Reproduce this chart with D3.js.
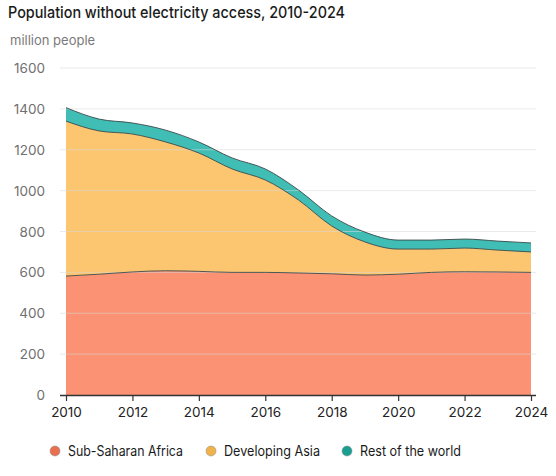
<!DOCTYPE html>
<html><head><meta charset="utf-8">
<script src="https://cdn.jsdelivr.net/npm/d3@7"></script>
<style>body{margin:0;background:#fff;} svg{display:block;}</style>
</head><body>
<svg id="c" width="556" height="476"></svg>
<script>
const years = [2010,2011,2012,2013,2014,2015,2016,2017,2018,2019,2020,2021,2022,2023,2024];
const subSaharanAfrica = [582,591,602,608,605,600,600,597,593,587,591,600,603,602,600];
const developingAsia   = [758,701,675,630,579,506,452,357,234,162,123,114,116,107,100];
const restOfWorld      = [66,58,54,58,54,54,54,49,49,48,44,44,44,44,44];
const seriesNames = ["Sub-Saharan Africa","Developing Asia","Rest of the world"];
const fills = ["#FA9273","#FCC56F","#40BDB4"];
const dots = ["#E8704F","#F0B24A","#1A9E90"];
const yTicks = [0,200,400,600,800,1000,1200,1400,1600];
const xTicks = [2010,2012,2014,2016,2018,2020,2022,2024];

const svg = d3.select("#c");
const font = "Inter, 'Noto Sans', sans-serif";
const x = d3.scaleLinear().domain([2010,2024]).range([66,531]);
const y = d3.scaleLinear().domain([0,1600]).range([395,68]);

const table = years.map((yr,i)=>({year:yr, a:subSaharanAfrica[i], b:developingAsia[i], c:restOfWorld[i]}));
const stack = d3.stack().keys(["a","b","c"])(table);

svg.append("text").attr("x",8).attr("y",18).attr("font-family",font).attr("font-size",16)
  .attr("font-weight",500).attr("fill","#1a1a1a").attr("textLength",337).attr("lengthAdjust","spacingAndGlyphs")
  .text("Population without electricity access, 2010-2024");
svg.append("text").attr("x",10).attr("y",45).attr("font-family",font).attr("font-size",13)
  .attr("fill","#7a7a7a").text("million people");

const area = d3.area().x(d=>x(d.data.year)).y0(d=>y(d[0])).y1(d=>y(d[1])).curve(d3.curveMonotoneX);
const line = d3.line().x(d=>x(d.data.year)).y(d=>y(d[1])).curve(d3.curveMonotoneX);

svg.append("g").selectAll("path").data(stack).join("path")
  .attr("d",area).attr("fill",(d,i)=>fills[i]);

// gridlines
svg.append("g").selectAll("line").data(yTicks.filter(t=>t>0)).join("line")
  .attr("x1",60).attr("x2",536).attr("y1",d=>y(d)).attr("y2",d=>y(d))
  .attr("stroke","#d8d8d8").attr("stroke-opacity",0.55).attr("stroke-width",1);

svg.append("g").selectAll("path").data(stack).join("path")
  .attr("d",line).attr("fill","none").attr("stroke","#3a4a48").attr("stroke-width",0.9);

// y labels
svg.append("g").selectAll("text").data(yTicks).join("text")
  .attr("x",45).attr("y",d=>y(d)+5).attr("text-anchor","end")
  .attr("font-family",font).attr("font-size",13.5).attr("fill","#707070").text(d=>d);

// x axis
const xa = svg.append("g").attr("transform","translate(0,395)")
  .call(d3.axisBottom(x).tickValues(xTicks).tickFormat(d3.format("d")).tickSize(6).tickSizeOuter(0));
xa.select(".domain").attr("d","M60,0.5H536").attr("stroke","#333").attr("stroke-width",1.5);
xa.selectAll(".tick line").attr("stroke","#333").attr("stroke-width",1.2);
xa.selectAll(".tick text").attr("font-family",font).attr("font-size",13.5).attr("fill","#222").attr("dy","0.95em");

// legend
const lx = [55,211,347];
const lw = [115,96,101];
const lg = svg.append("g");
seriesNames.forEach((n,i)=>{
  lg.append("circle").attr("cx",lx[i]).attr("cy",451).attr("r",5).attr("fill",dots[i]).attr("stroke","#888").attr("stroke-width",0.5);
  lg.append("text").attr("x",lx[i]+13).attr("y",456).attr("font-family",font).attr("font-size",14)
    .attr("fill","#1a1a1a").attr("textLength",lw[i]).attr("lengthAdjust","spacingAndGlyphs").text(n);
});
</script>
</body></html>
